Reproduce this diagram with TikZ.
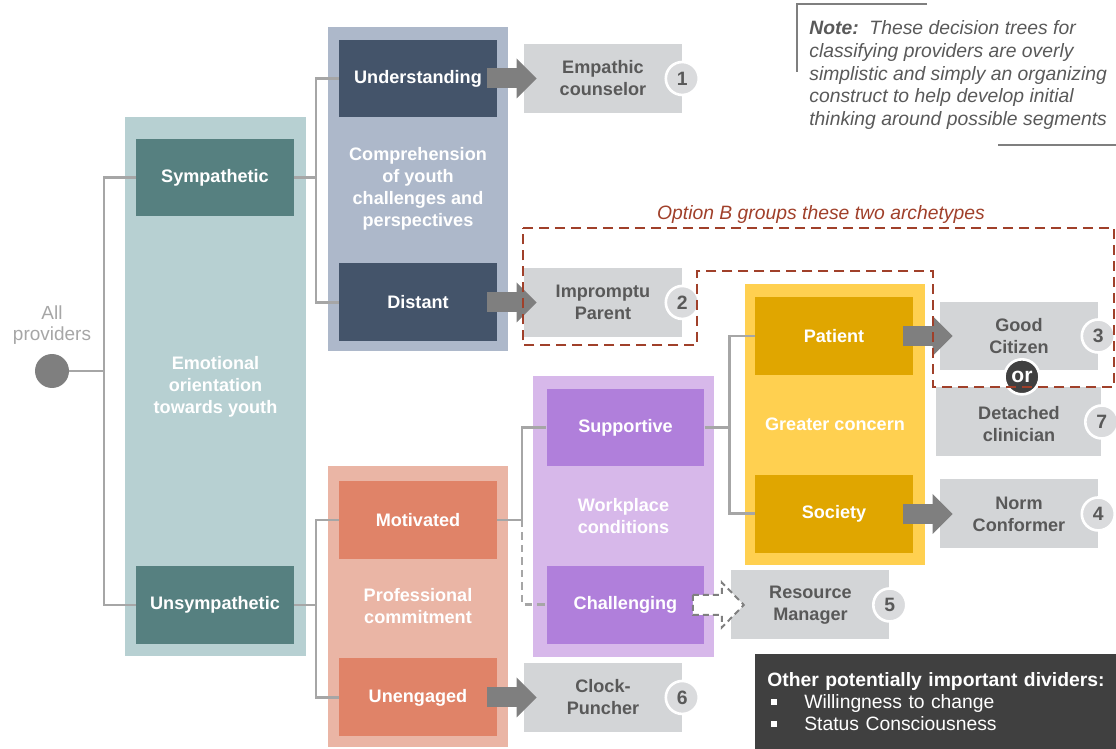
\documentclass[tikz,border=0pt]{standalone}
\usepackage{fontspec}
\setmainfont{Liberation Sans}
\usetikzlibrary{arrows.meta, positioning}

\definecolor{tealpale}{HTML}{B7D0D2}
\definecolor{tealdark}{HTML}{568080}
\definecolor{slatepale}{HTML}{ADB8CA}
\definecolor{slatedark}{HTML}{44546A}
\definecolor{salmonpale}{HTML}{EAB5A5}
\definecolor{salmondark}{HTML}{E08368}
\definecolor{lilacpale}{HTML}{D7B8EA}
\definecolor{lilacdark}{HTML}{B07FDB}
\definecolor{goldpale}{HTML}{FFD050}
\definecolor{golddark}{HTML}{E0A600}
\definecolor{outgray}{HTML}{D3D5D7}
\definecolor{badgegray}{HTML}{DADBDD}
\definecolor{textgray}{HTML}{595959}
\definecolor{arrowgray}{HTML}{7F7F7F}
\definecolor{treegray}{HTML}{A6A6A6}
\definecolor{optionred}{HTML}{A0402A}
\definecolor{darkpanel}{HTML}{404040}

\newcommand{\tilefont}{\fontsize{10.3}{12.5}\selectfont\bfseries}
\newcommand{\notefont}{\fontsize{11}{13}\selectfont}
\newcommand{\bulletmark}{\makebox[0.74cm][l]{\hspace{0.08cm}\rule[0.08cm]{0.11cm}{0.11cm}}}

\begin{document}
\begin{tikzpicture}[x=0.02cm, y=-0.02cm,
    node distance=3.7cm,
    on grid,
    tree/.style={draw=treegray, line width=1.7pt},
    panel/.style={rectangle, inner sep=0pt, minimum width=3.6cm, minimum height=5.62cm,
        align=center, text=white, font=\tilefont},
    choice/.style={rectangle, inner sep=0pt, minimum width=3.16cm, minimum height=1.56cm,
        align=center, text=white, font=\tilefont},
    outcome/.style={rectangle, fill=outgray, inner sep=0pt, minimum width=3.16cm,
        minimum height=1.38cm, align=center, text=textgray, font=\tilefont},
    badge/.style={circle, fill=badgegray, draw=white, line width=1.5pt, minimum size=0.66cm,
        inner sep=0pt, text=textgray, font=\fontsize{11}{13}\selectfont\bfseries},
    orbadge/.style={badge, fill=darkpanel, text=white, minimum size=0.7cm,
        font=\fontsize{12}{14}\selectfont\bfseries},
    bigarrow/.style={draw=arrowgray, line width=0.4cm,
        -{Triangle[length=0.4cm, width=0.8cm, line width=0pt]}},
    hollowarrow/.style={draw=arrowgray, fill=white, line width=1.1pt, dash pattern=on 0.12cm off 0.08cm},
    optionb/.style={draw=optionred, line width=1.2pt, dash pattern=on 0.2cm off 0.12cm},
    noteline/.style={draw=arrowgray, line width=1.1pt}]

    \useasboundingbox (0,0) rectangle (1116,749);

    % panels
    \node[panel, fill=tealpale, minimum width=3.62cm, minimum height=10.78cm] (emotion) at (215.5,386.5)
        {Emotional\\orientation\\towards youth};
    \node[panel, fill=slatepale, minimum height=6.48cm] (comprehension) at (418,189)
        {Comprehension\\of youth\\challenges and\\perspectives};
    \node[panel, fill=salmonpale] (commitment) at (418,606.5) {Professional\\commitment};
    \node[panel, fill=lilacpale, minimum width=3.62cm] (workplace) at (623.5,516.5) {Workplace\\conditions};
    \node[panel, fill=goldpale] (concern) at (835,424.5) {Greater concern};

    % root
    \node[circle, fill=arrowgray, minimum size=0.68cm, inner sep=0pt] (root) at (52,371) {};
    \node[align=center, text=treegray, font=\fontsize{10.8}{11.8}\selectfont] (allprov) [above=0.92cm of root]
        {All\\providers};

    % choices
    \node[choice, fill=tealdark]   (sympathetic)   at (215,177.5) {Sympathetic};
    \node[choice, fill=tealdark]   (unsympathetic) at (215,605)   {Unsympathetic};
    \node[choice, fill=slatedark]  (understanding) at (418,78.5)  {Understanding};
    \node[choice, fill=slatedark]  (distant)       [below=4.48cm of understanding] {Distant};
    \node[choice, fill=salmondark] (motivated)     at (418,520)   {Motivated};
    \node[choice, fill=salmondark] (unengaged)     [below=3.55cm of motivated] {Unengaged};
    \node[choice, fill=lilacdark]  (supportive)    at (625.5,427.5) {Supportive};
    \node[choice, fill=lilacdark]  (challenging)   [below=3.55cm of supportive] {Challenging};
    \node[choice, fill=golddark]   (patient)       at (834,336)   {Patient};
    \node[choice, fill=golddark]   (society)       [below=3.56cm of patient] {Society};

    % archetypes
    \node[outcome] (empathic)      [right=of understanding] {Empathic\\counselor};
    \node[outcome] (impromptu)     [right=of distant]       {Impromptu\\Parent};
    \node[outcome] (goodcitizen)   [right=of patient]       {Good\\Citizen};
    \node[outcome, minimum width=3.3cm] (detached) [below=1.72cm of goodcitizen] {\\[-3pt]Detached\\clinician};
    \node[outcome] (normconformer) [right=of society]       {Norm\\Conformer};
    \node[outcome] (resource)      [right=of challenging]   {Resource\\Manager};
    \node[outcome] (clockpuncher)  [right=of unengaged]     {Clock-\\Puncher};

    % tree
    \coordinate (forkroot) at (104,371);
    \coordinate (forksym)  at (316,177.5);
    \coordinate (forkuns)  at (316,605);
    \coordinate (forkmot)  at (522,520);
    \coordinate (forksup)  at (729,427.5);

    \draw[tree] (root) -- (forkroot);
    \draw[tree] (sympathetic.west) -| (forkroot) |- (unsympathetic.west);
    \draw[tree] (sympathetic) -- (forksym);
    \draw[tree] (understanding.west) -| (forksym) |- (distant.west);
    \draw[tree] (unsympathetic) -- (forkuns);
    \draw[tree] (motivated.west) -| (forkuns) |- (unengaged.west);
    \draw[tree] (motivated) -- (forkmot) |- (supportive.west);
    \draw[tree, dash pattern=on 0.15cm off 0.1cm] (forkmot) |- (challenging.west);
    \draw[tree] (supportive) -- (forksup);
    \draw[tree] (patient.west) -| (forksup) |- (society.west);

    % arrows
    \draw[bigarrow] ([xshift=-0.2cm]understanding.east) -- ([xshift=0.26cm]empathic.west);
    \draw[bigarrow] ([xshift=-0.2cm]distant.east)       -- ([xshift=0.26cm]impromptu.west);
    \draw[bigarrow] ([xshift=-0.2cm]patient.east)       -- ([xshift=0.26cm]goodcitizen.west);
    \draw[bigarrow] ([xshift=-0.2cm]society.east)       -- ([xshift=0.26cm]normconformer.west);
    \draw[bigarrow] ([xshift=-0.2cm]unengaged.east)     -- ([xshift=0.26cm]clockpuncher.west);
    \draw[hollowarrow] ([xshift=-0.24cm, yshift=0.2cm]challenging.east) -- ++(0.58cm,0cm) -- ++(0cm,0.25cm)
        -- ++(0.44cm,-0.45cm) -- ++(-0.44cm,-0.45cm) -- ++(0cm,0.25cm) -- ++(-0.58cm,0cm) -- cycle;

    % numbers
    \node[badge] (num1) at (empathic.east)      {1};
    \node[badge] (num2) at (impromptu.east)     {2};
    \node[badge] (num3) at (goodcitizen.east)   {3};
    \node[badge] (num4) at (normconformer.east) {4};
    \node[badge] (num5) at (resource.east)      {5};
    \node[badge] (num6) at (clockpuncher.east)  {6};
    \node[badge] (num7) at (detached.east)      {7};
    \node[orbadge] (ormark) at ([xshift=0.06cm, yshift=-0.12cm]goodcitizen.south) {or};

    % option B
    \draw[optionb] (523,228) -- (1114,228) -- (1114,387) -- (933,387) -- (933,271)
        -- (697,271) -- (697,345) -- (523,345) -- cycle;
    \node[text=optionred, font=\notefont\itshape] (optionlabel) at (821,215)
        {Option B groups these two archetypes};

    % note
    \draw[noteline] (927,4) -- (797,4) -- (797,72);
    \draw[noteline] (998,145) -- (1116,145);
    \node[anchor=north west, align=left, inner sep=0pt, text=textgray, font=\notefont\itshape] (note) at (809,20)
        {\textbf{Note:}\ \ These decision trees for\\classifying providers are overly\\
         simplistic and simply an organizing\\construct to help develop initial\\
         thinking around possible segments};

    % other dividers
    \node[anchor=north west, fill=darkpanel, text=white, align=left, inner xsep=0.24cm, inner ysep=0pt,
        text width=7cm, minimum height=1.9cm, font=\fontsize{11}{12.5}\selectfont] (dividers) at (755,654)
        {\mbox{\bfseries Other potentially important dividers:}\\
         \bulletmark Willingness to change\\
         \bulletmark Status Consciousness};
\end{tikzpicture}
\end{document}
